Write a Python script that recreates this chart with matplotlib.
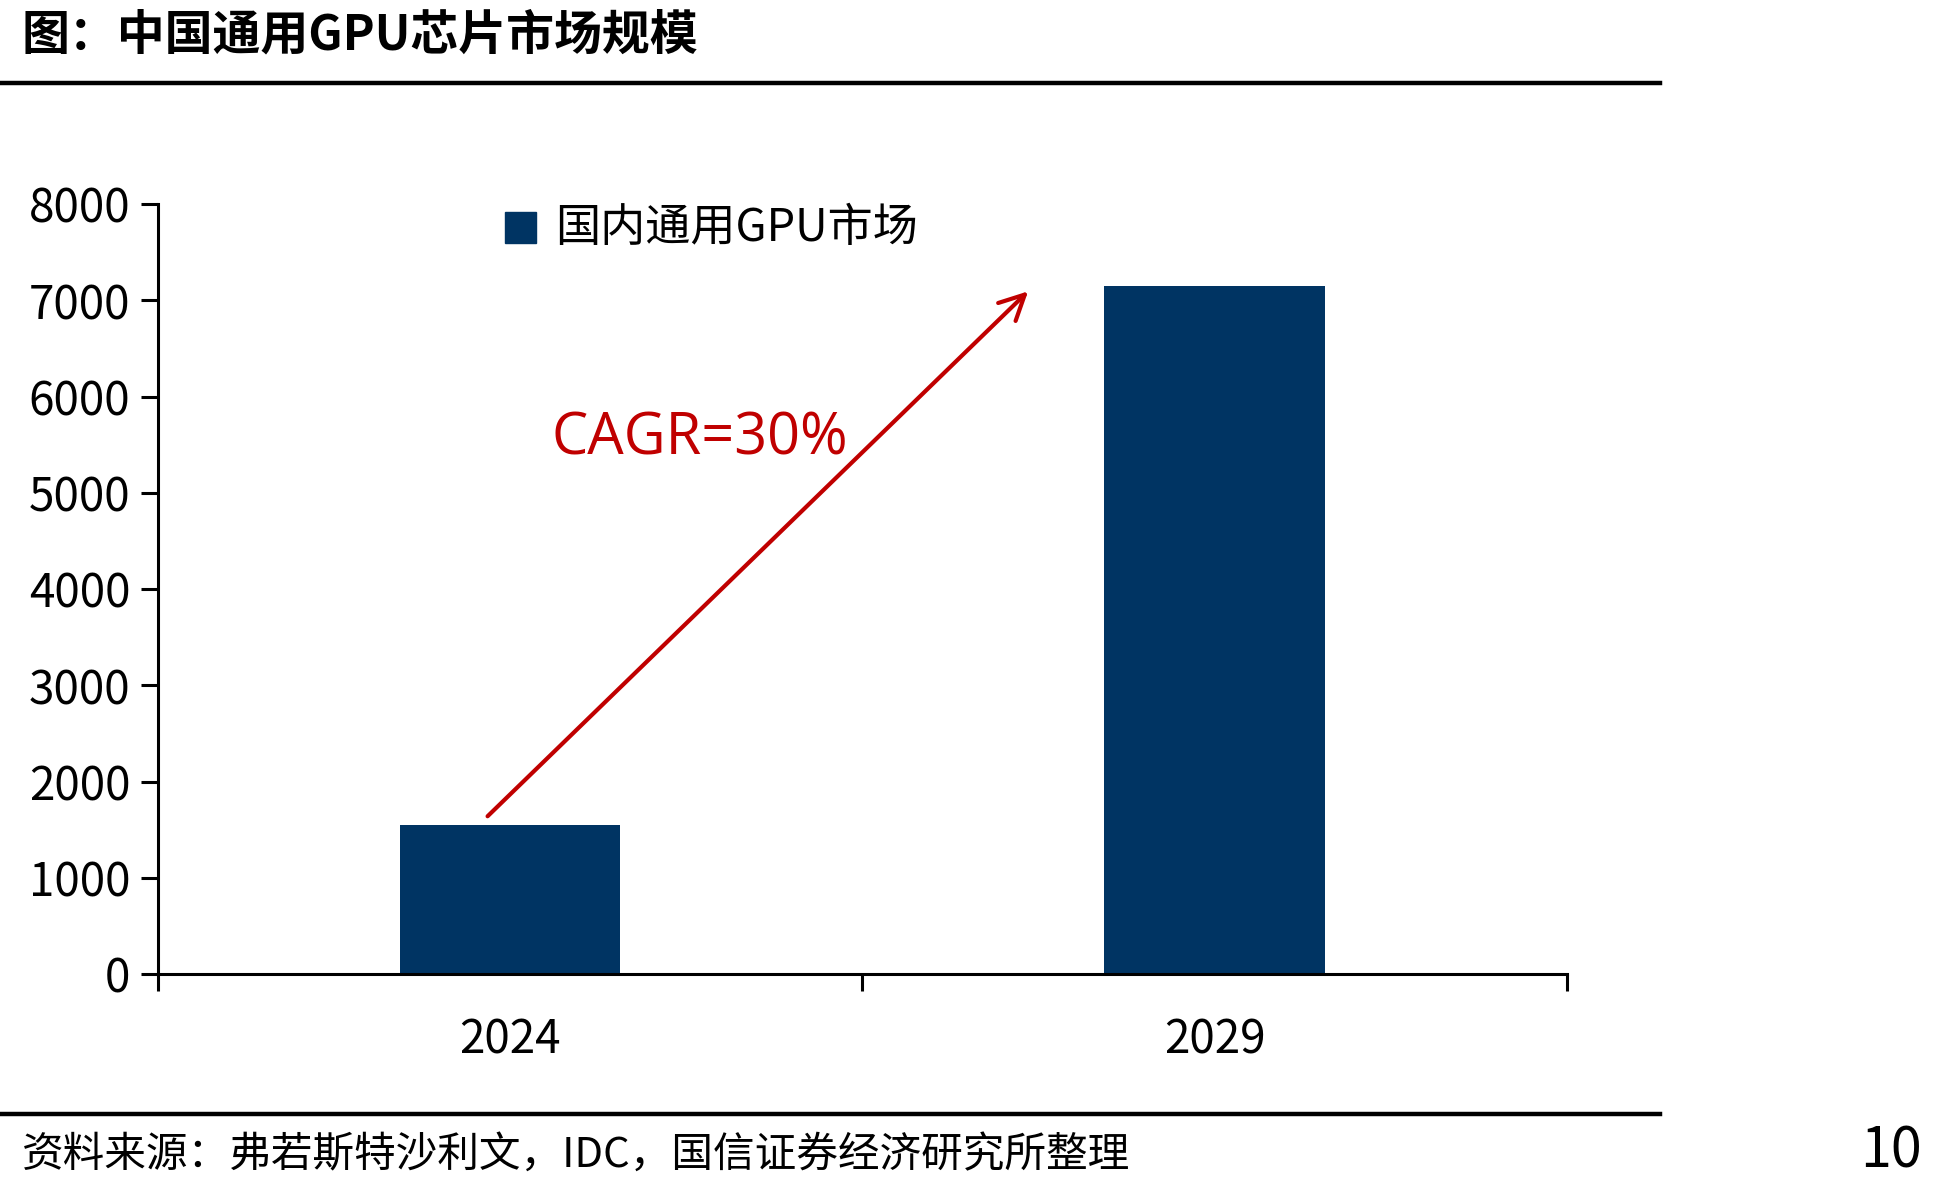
import matplotlib
matplotlib.use("Agg")
import matplotlib.pyplot as plt
from matplotlib.lines import Line2D
from matplotlib.patches import Rectangle

plt.rcParams['font.family'] = ['Noto Sans CJK SC', 'DejaVu Sans']

# data
years = ['2024', '2029']
market = [1550, 7150]
series_name = '国内通用GPU市场'
title = '图：中国通用GPU芯片市场规模'
source = '资料来源：弗若斯特沙利文，IDC，国信证券经济研究所整理'
cagr_text = 'CAGR=30%'
page_no = '10'
y_ticks = [0, 1000, 2000, 3000, 4000, 5000, 6000, 7000, 8000]

BAR = '#003463'
RED = '#C00000'

fig = plt.figure(figsize=(19.41, 11.88), dpi=100)
ax = fig.add_axes([0.0814, 0.180, 0.7259, 0.6483])

x = range(len(years))
ax.bar(x, market, width=0.313, color=BAR, zorder=2)

ax.set_xlim(-0.5, len(years) - 0.5)
ax.set_ylim(0, 8000)
ax.set_yticks(y_ticks)
ax.set_xticks(list(x))
ax.set_xticklabels(years)
ax.set_xticks([i - 0.5 for i in range(len(years) + 1)], minor=True)

for s in ['top', 'right']:
    ax.spines[s].set_visible(False)
for s in ['left', 'bottom']:
    ax.spines[s].set_linewidth(2.2)

ax.tick_params(axis='y', direction='out', length=12, width=2.2, labelsize=33, pad=8)
ax.tick_params(axis='x', which='major', length=0, labelsize=33, pad=30)
ax.tick_params(axis='x', which='minor', direction='out', length=12, width=2.2)

# growth arrow and label
ax.annotate('', xy=(0.738, 7113), xytext=(-0.035, 1620),
            arrowprops=dict(arrowstyle='->', color=RED, lw=3, mutation_scale=45))
ax.text(0.058, 5560, cagr_text, color=RED, fontsize=41.5, family='Open Sans',
        ha='left', va='center')

# legend
fig.add_artist(Rectangle((505 / 1941, 1 - 243 / 1188), 31 / 1941, 31 / 1188,
                         transform=fig.transFigure, color=BAR))
fig.text(555 / 1941, 1 - 228 / 1188, series_name, fontsize=32.5, va='center', ha='left')

# title and rules
fig.text(22 / 1941, 1 - 35 / 1188, title, fontsize=34.5, fontweight='black',
         va='center', ha='left')
fig.add_artist(Line2D([0, 1660 / 1941], [1 - 83 / 1188] * 2, color='black', lw=3.2,
                      transform=fig.transFigure))
fig.add_artist(Line2D([0, 1660 / 1941], [1 - 1114 / 1188] * 2, color='black', lw=3.2,
                      transform=fig.transFigure))
fig.text(22 / 1941, 1 - 1155 / 1188, source, fontsize=30, va='center', ha='left')
fig.text(1922 / 1941, 1 - 1152 / 1188, page_no, fontsize=40, va='center', ha='right')

fig.savefig('out.png', dpi=100)
